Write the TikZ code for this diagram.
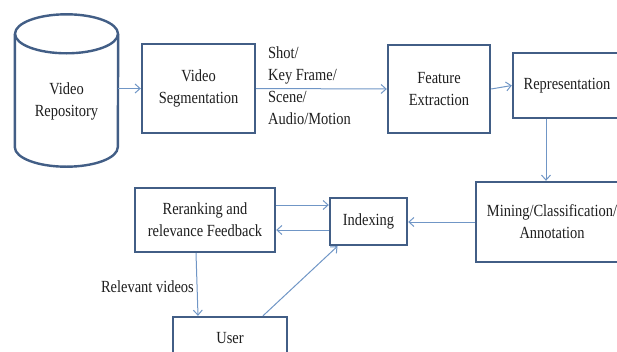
\documentclass[tikz,border=0pt]{standalone}
\usepackage{fontspec}
\setmainfont[FakeStretch=0.85]{Liberation Serif}
\usetikzlibrary{arrows.meta}
\definecolor{boxc}{RGB}{66,94,134}
\definecolor{arrc}{RGB}{112,150,198}
\definecolor{txtc}{RGB}{30,30,30}
\tikzset{
  blk/.style={draw=boxc, line width=2.4pt, fill=white, align=center, inner sep=0pt, text=txtc},
  conn/.style={draw=arrc, line width=1pt, -{Straight Barb[length=5pt,width=9pt]}},
  lbl/.style={text=txtc, inner sep=0pt},
}
\begin{document}
\begin{tikzpicture}[x=1pt,y=1pt,font=\fontsize{17}{22}\selectfont]
\useasboundingbox (0,0) rectangle (617,-351);
\clip (0,0) rectangle (617,-351);
% cylinder
\node[minimum width=103pt, minimum height=152pt, inner sep=0pt] (repo) at (66.5,-90) {};
\fill[white] (repo.north west) ++(0,-20) -- ++(0,-113) arc[start angle=180,end angle=360,x radius=51.5,y radius=19.5] -- ++(0,113) -- cycle;
\draw[boxc, line width=2.4pt] ([yshift=-20pt]repo.north west) -- ([yshift=19pt]repo.south west)
  arc[start angle=180,end angle=360,x radius=51.5,y radius=19.5] -- ([yshift=-20pt]repo.north east);
\draw[boxc, line width=2.4pt] ([yshift=-20pt]repo.north) ellipse[x radius=51.5,y radius=19.5];
\node[lbl, align=center] (repotext) at (66.5,-101) {Video\\Repository};
% boxes
\node[blk, minimum width=113pt, minimum height=89pt] (seg) at (198.5,-88.5) {Video\\Segmentation};
\node[lbl, align=left, anchor=west] (shot) at (268,-86) {Shot/\\Key Frame/\\Scene/\\Audio/Motion};
\node[blk, minimum width=102pt, minimum height=88pt] (fe) at (439,-89) {Feature\\Extraction};
\node[blk, minimum width=108pt, minimum height=65pt] (rep) at (567,-85.5) {Representation};
\node[blk, minimum width=152pt, minimum height=80pt] (mine) at (552,-222) {Mining/Classification/\\Annotation};
\node[blk, minimum width=77pt, minimum height=47pt] (idx) at (368.5,-221.5) {Indexing};
\node[blk, minimum width=140pt, minimum height=64pt] (rr) at (205,-220) {Reranking and\\relevance Feedback};
\node[blk, minimum width=114pt, minimum height=43pt] (user) at (230,-338.5) {User};
\node[lbl, anchor=east] (relv) at (194,-287) {Relevant videos};
% connectors
\draw[conn] (repo.east |- seg.west) -- (seg.west);
\draw[conn] (seg.east) -- (fe.west);
\draw[conn] (fe.east) -- (rep.west);
\draw[conn] ([xshift=-21pt]rep.south) -- ([xshift=-21pt]rep.south |- mine.north);
\draw[conn] (mine.west) -- (mine.west -| idx.east);
\draw[conn] ([yshift=15pt]rr.east) -- ([yshift=15pt]rr.east -| idx.west);
\draw[conn] ([yshift=-10pt]rr.east -| idx.west) -- ([yshift=-10pt]rr.east);
\draw[conn] ([xshift=-9pt]rr.south) -- ([xshift=-32pt]user.north);
\draw[conn] ([xshift=33pt]user.north) -- ([xshift=-31pt]idx.south);
\end{tikzpicture}
\end{document}
